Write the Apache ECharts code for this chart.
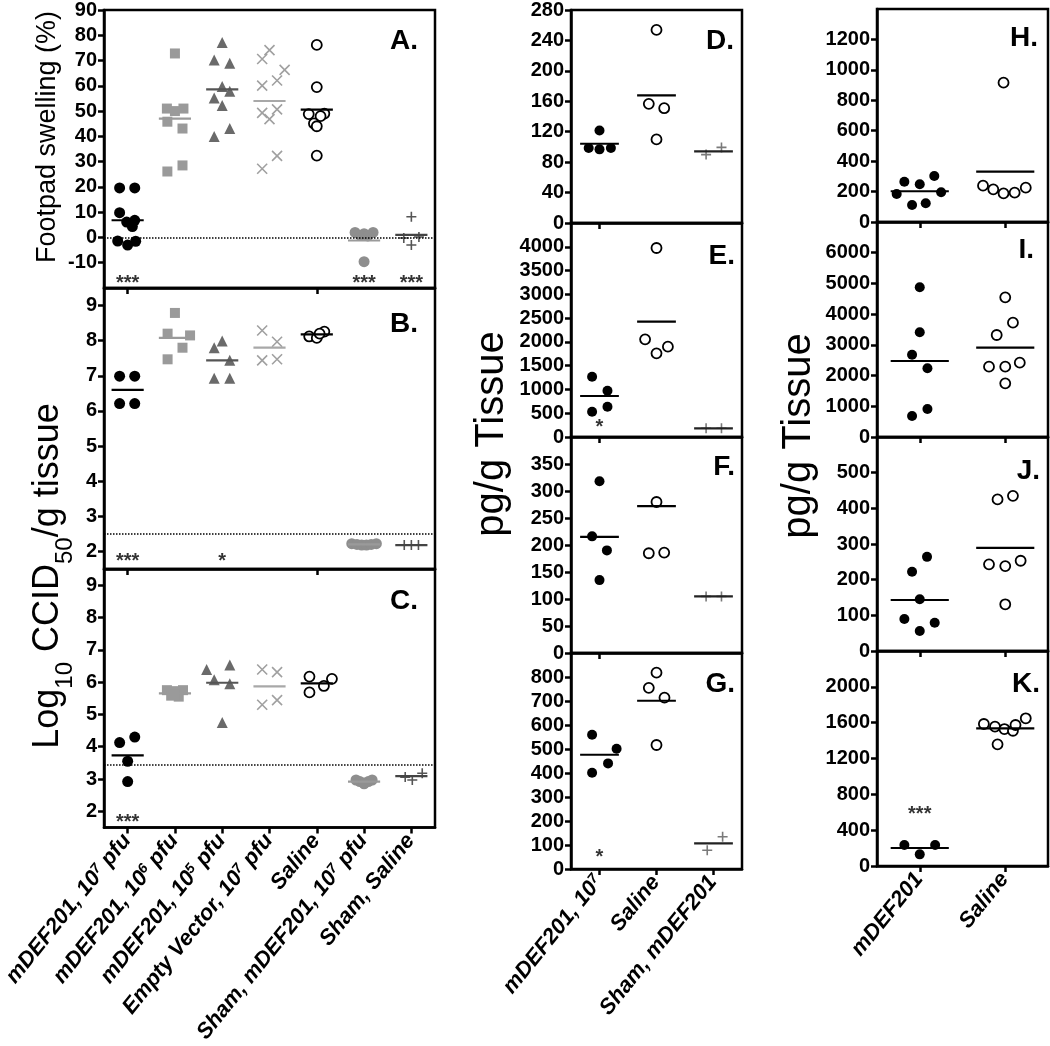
<!DOCTYPE html>
<html><head><meta charset="utf-8">
<script src="https://cdn.jsdelivr.net/npm/echarts@6/dist/echarts.min.js"></script>
<style>html,body{margin:0;padding:0;background:#fff}#c{width:1050px;height:1046px}</style>
</head><body><div id="c"></div>
<script>
// ---------------- DATA ----------------
const catsLeft = ['mDEF201, 10⁷ pfu', 'mDEF201, 10⁶ pfu', 'mDEF201, 10⁵ pfu', 'Empty Vector, 10⁷ pfu', 'Saline', 'Sham, mDEF201, 10⁷ pfu', 'Sham, Saline'];
const catsMid = ['mDEF201, 10⁷', 'Saline', 'Sham, mDEF201'];
const catsRight = ['mDEF201', 'Saline'];

// Panel A: footpad swelling (%)
const aVals = [
  [19.6, 19.6, 9.8, 6.1, 6.8, 4.3, -1.4, -3.0, -1.5],
  [72.8, 51.0, 50.0, 51.0, 45.8, 43.1, 26.1, 28.5],
  [77.1, 70.2, 68.9, 59.7, 55.2, 57.9, 52.2, 39.9, 43.1],
  [70.6, 74.1, 66.3, 60.1, 62.1, 49.3, 50.7, 46.8, 27.2, 32.3],
  [76.2, 59.5, 48.8, 49.0, 48.0, 45.1, 44.0, 32.4],
  [2.0, 1.5, 2.0, 0.8, 0.6, -9.6],
  [8.2, -0.2, 0.2, -3.0]
];
const aJit = [
  [-0.17, 0.15, -0.17, -0.02, 0.15, 0.10, -0.21, 0, 0.17],
  [0, -0.17, 0, 0.18, -0.16, 0.16, -0.16, 0.16],
  [0, -0.17, 0.16, 0, -0.17, 0.16, 0, -0.17, 0.16],
  [-0.155, 0, 0.32, -0.155, 0.16, -0.155, 0.16, 0, -0.155, 0.16],
  [0, 0, -0.17, 0.16, 0.08, -0.06, 0, 0],
  [-0.19, 0, 0.19, -0.08, 0.08, 0],
  [0, -0.16, 0.16, 0]
];
const aMeans = [6.8, 47.0, 58.6, 54.0, 50.6, -1.2, 1.0];
const aStars = [[0, -18.3, '***'], [5, -18.3, '***'], [6, -18.3, '***']];

// Panel B: log10 CCID50/g
const bVals = [
  [6.99, 6.99, 6.21, 6.21],
  [8.79, 8.20, 8.15, 7.80, 7.47],
  [7.80, 7.99, 7.44, 6.93, 6.93],
  [8.29, 7.97, 7.44, 7.47],
  [8.12, 8.08, 8.26, 8.20],
  [2.22, 2.20, 2.18, 2.18, 2.20, 2.22],
  [2.18, 2.18, 2.18]
];
const bJit = [
  [-0.17, 0.15, -0.17, 0.15],
  [0, -0.155, 0.32, 0.16, -0.155],
  [-0.17, 0, 0.16, -0.17, 0.16],
  [-0.155, 0.16, -0.155, 0.16],
  [-0.16, 0, 0.16, 0.06],
  [-0.26, -0.15, -0.05, 0.05, 0.15, 0.26],
  [-0.15, 0, 0.15]
];
const bMeans = [6.6, 8.08, 7.44, 7.8, 8.18, 2.2, 2.18];
const bStars = [[0, 1.70, '***'], [2, 1.70, '*']];

// Panel C: log10 CCID50/g
const cVals = [
  [4.13, 4.30, 3.55, 2.92],
  [5.75, 5.72, 5.75, 5.58, 5.55, 5.62],
  [6.39, 6.53, 6.07, 5.95, 4.75],
  [6.39, 6.31, 5.30, 5.44],
  [6.17, 6.10, 5.88, 5.68],
  [2.97, 2.97, 2.92, 2.92, 2.88, 2.85],
  [2.97, 3.18, 3.06]
];
const cJit = [
  [-0.17, 0.15, 0, 0],
  [-0.17, 0, 0.17, -0.08, 0.08, 0],
  [-0.33, 0.16, -0.17, 0.16, 0],
  [-0.155, 0.16, -0.155, 0.16],
  [-0.155, 0.32, 0.15, -0.155],
  [-0.17, 0.17, -0.09, 0.09, 0, 0],
  [0.02, 0.23, -0.13]
];
const cMeans = [3.73, 5.65, 5.98, 5.87, 5.96, 2.92, 3.09];
const cStars = [[0, 1.67, '***']];

// Panels D-G: pg/g tissue
const dVals = [[121.7, 98.5, 96.8, 98.5], [253.8, 156.6, 150.9, 109.9], [89.9, 99.4]];
const dJit = [[0, -0.19, 0, 0.2], [0, -0.135, 0.135, 0], [-0.13, 0.14]];
const dMeans = [104.2, 167.9, 94.2];
const eVals = [[1268, 974, 637, 532], [3974, 2054, 1899, 1760], [183, 183]];
const eJit = [[-0.13, 0.14, 0.14, -0.13], [0, -0.2, 0.2, 0], [-0.13, 0.14]];
const eMeans = [862, 2425, 183];
const eStars = [[0, 210, '*']];
const fVals = [[318, 216, 190, 135], [279.6, 184.7, 186], [104.8, 104.8]];
const fJit = [[0, -0.13, 0.13, 0], [0, -0.135, 0.135], [-0.13, 0.14]];
const fMeans = [215, 272, 105];
const gVals = [[559.6, 501, 440, 401], [818, 755, 714, 516.7], [78, 134.6]];
const gJit = [[-0.13, 0.3, 0.15, -0.13], [0, -0.135, 0.14, 0], [-0.11, 0.16]];
const gMeans = [476, 701, 107];
const gStars = [[0, 46, '*']];

// Panels H-K: pg/g tissue
const hVals = [[265, 247.6, 302, 184, 195, 111.7, 123], [238.6, 214.6, 188.6, 192.6, 225.5, 915.6]];
const hJit = [[-0.18, 0, 0.17, -0.27, 0.25, -0.09, 0.07], [-0.26, -0.14, -0.02, 0.11, 0.24, -0.02]];
const hMeans = [202, 330.6];
const iVals = [[4873, 3409, 2680, 2237, 912, 684], [4548, 3722, 3321, 2289, 2289, 2419, 1748]];
const iJit = [[0, 0, -0.09, 0.09, 0.09, -0.09], [0, 0.09, -0.1, -0.19, 0, 0.17, 0]];
const iMeans = [2474, 2908];
const jVals = [[264, 222, 145, 89.7, 79, 56], [425, 435, 243, 238, 253, 131]];
const jJit = [[0.085, -0.09, 0, -0.18, 0.175, 0], [-0.09, 0.09, -0.19, 0, 0.18, 0]];
const jMeans = [143, 289];
const kVals = [[234, 234, 130], [1585, 1555, 1529, 1510, 1574, 1649, 1358]];
const kJit = [[-0.18, 0.18, 0], [-0.25, -0.12, -0.01, 0.09, 0.12, 0.24, -0.09]];
const kMeans = [201, 1537];
const kStars = [[0, 580, '***']];

// ---------------- STYLE / LAYOUT ----------------
const FONT = '"Liberation Sans", Arial, Helvetica, sans-serif';
const typeStyle = {
  dot:  { symbol: 'circle', color: '#000', border: '#000', bw: 0, line: '#000' },
  sq:   { symbol: 'rect', color: '#9a9a9a', border: '#9a9a9a', bw: 0, line: '#9a9a9a' },
  tri:  { symbol: 'triangle', color: '#6a6a6a', border: '#6a6a6a', bw: 0, line: '#555' },
  x:    { symbol: 'path://M0,0L10,10M10,0L0,10', color: '#a0a0a0', border: '#a0a0a0', bw: 1.6, line: '#a8a8a8' },
  ring: { symbol: 'circle', color: '#fff', border: '#000', bw: 1.8, line: '#000' },
  gdot: { symbol: 'circle', color: '#8e8e8e', border: '#8e8e8e', bw: 0, line: '#9a9a9a' },
  plus: { symbol: 'path://M5,0L5,10M0,5L10,5', color: '#555', border: '#555', bw: 1.6, line: '#444' },
  plusM:{ symbol: 'path://M5,0L5,10M0,5L10,5', color: '#7a7a7a', border: '#7a7a7a', bw: 1.6, line: '#222' }
};
const leftTypes = ['dot', 'sq', 'tri', 'x', 'ring', 'gdot', 'plus'];
const leftSizes = [11, 10, 11, 10, 10, 11, 10];
const midTypes = ['dot', 'ring', 'plusM'];
const midSizes = [10, 10, 10];
const rightTypes = ['dot', 'ring'];
const rightSizes = [10, 10];

const panels = [
  { letter: 'A.', grid: { left: 104, top: 8, width: 331, height: 280 }, cats: catsLeft, vals: aVals, jit: aJit, means: aMeans, stars: aStars, types: leftTypes, sizes: leftSizes, y: { min: -20, max: 90, interval: 10 }, showMin: false, showMax: true, ref: 0, showX: false, lr: 418, lt: 27 },
  { letter: 'B.', grid: { left: 104, top: 288, width: 331, height: 281 }, cats: catsLeft, vals: bVals, jit: bJit, means: bMeans, stars: bStars, types: leftTypes, sizes: leftSizes, y: { min: 1.5, max: 9.5, splitNumber: 8 }, showMin: false, showMax: false, ref: 2.5, showX: false, lr: 418, lt: 310 },
  { letter: 'C.', grid: { left: 104, top: 569, width: 331, height: 282 }, cats: catsLeft, vals: cVals, jit: cJit, means: cMeans, stars: cStars, types: leftTypes, sizes: leftSizes, y: { min: 1.5, max: 9.5, splitNumber: 8 }, showMin: false, showMax: false, ref: 3.45, showX: true, lr: 418, lt: 587 },
  { letter: 'D.', grid: { left: 571, top: 9, width: 171, height: 214 }, cats: catsMid, vals: dVals, jit: dJit, means: dMeans, stars: [], types: midTypes, sizes: midSizes, y: { min: 0, max: 280, interval: 40 }, showMin: true, showMax: true, showX: false, lr: 734, lt: 27 },
  { letter: 'E.', grid: { left: 571, top: 223, width: 171, height: 214 }, cats: catsMid, vals: eVals, jit: eJit, means: eMeans, stars: eStars, types: midTypes, sizes: midSizes, y: { min: 0, max: 4500, interval: 500 }, showMin: true, showMax: false, showX: false, lr: 735, lt: 242 },
  { letter: 'F.', grid: { left: 571, top: 437, width: 171, height: 216 }, cats: catsMid, vals: fVals, jit: fJit, means: fMeans, stars: [], types: midTypes, sizes: midSizes, y: { min: 0, max: 400, interval: 50 }, showMin: true, showMax: false, showX: false, lr: 735, lt: 453 },
  { letter: 'G.', grid: { left: 571, top: 653, width: 171, height: 216 }, cats: catsMid, vals: gVals, jit: gJit, means: gMeans, stars: gStars, types: midTypes, sizes: midSizes, y: { min: 0, max: 900, interval: 100 }, showMin: true, showMax: false, showX: true, lr: 735, lt: 670 },
  { letter: 'H.', grid: { left: 877, top: 9, width: 171, height: 213 }, cats: catsRight, vals: hVals, jit: hJit, means: hMeans, stars: [], types: rightTypes, sizes: rightSizes, y: { min: 0, max: 1400, interval: 200 }, showMin: true, showMax: false, showX: false, lr: 1038, lt: 24 },
  { letter: 'I.', grid: { left: 877, top: 222, width: 171, height: 215 }, cats: catsRight, vals: iVals, jit: iJit, means: iMeans, stars: [], types: rightTypes, sizes: rightSizes, y: { min: 0, max: 7000, interval: 1000 }, showMin: true, showMax: false, showX: false, lr: 1034, lt: 236 },
  { letter: 'J.', grid: { left: 877, top: 437, width: 171, height: 214 }, cats: catsRight, vals: jVals, jit: jJit, means: jMeans, stars: [], types: rightTypes, sizes: rightSizes, y: { min: 0, max: 600, interval: 100 }, showMin: true, showMax: false, showX: false, lr: 1040, lt: 457 },
  { letter: 'K.', grid: { left: 877, top: 651, width: 171, height: 215 }, cats: catsRight, vals: kVals, jit: kJit, means: kMeans, stars: kStars, types: rightTypes, sizes: rightSizes, y: { min: 0, max: 2400, interval: 400 }, showMin: true, showMax: false, showX: true, lr: 1040, lt: 670 }
];

const supMap = { '⁰': '0', '¹': '1', '²': '2', '³': '3', '⁴': '4', '⁵': '5', '⁶': '6', '⁷': '7', '⁸': '8', '⁹': '9' };
function fmtLabel(v) {
  const m = v.match(/^(.*?)([⁰¹²³⁴⁵⁶⁷⁸⁹]+)(.*)$/);
  if (!m) return '{n|' + v + '}';
  const sup = m[2].split('').map(c => supMap[c]).join('');
  return '{n|' + m[1] + '}{s|' + sup + '}' + (m[3] ? '{n|' + m[3] + '}' : '');
}

const grids = [], xAxes = [], yAxes = [], series = [], titles = [];
panels.forEach((p, pi) => {
  grids.push(Object.assign({ show: true, borderColor: '#000', borderWidth: 2.5, backgroundColor: 'transparent', z: 3 }, p.grid));
  xAxes.push({
    type: 'category', gridIndex: pi, data: p.cats, boundaryGap: true, position: 'bottom',
    axisLine: { show: true, onZero: false, lineStyle: { color: '#000', width: 2.5 } },
    axisTick: { show: true, alignWithLabel: true, length: 6, lineStyle: { color: '#000', width: 2.5 } },
    splitLine: { show: false },
    axisLabel: p.showX ? {
      show: true, interval: 0, rotate: 51, margin: 10, formatter: fmtLabel,
      rich: {
        n: { fontFamily: FONT, fontSize: 22, fontWeight: 'bold', fontStyle: 'italic', color: '#000', lineHeight: 24, verticalAlign: 'top' },
        s: { fontFamily: FONT, fontSize: 14, fontWeight: 'bold', fontStyle: 'italic', color: '#000', lineHeight: 14, verticalAlign: 'top' }
      }
    } : { show: false }
  });
  const n = p.cats.length;
  xAxes.push({ type: 'value', gridIndex: pi, min: -0.5, max: n - 0.5, show: false, position: 'top', axisLine: { onZero: false } });
  yAxes.push(Object.assign({
    type: 'value', gridIndex: pi,
    axisLine: { show: true, onZero: false, lineStyle: { color: '#000', width: 2.5 } },
    axisTick: { show: true, length: 6, lineStyle: { color: '#000', width: 2.5 } },
    splitLine: { show: false },
    axisLabel: { fontFamily: FONT, fontSize: 20, fontWeight: 'bold', color: '#000', margin: 7, showMinLabel: p.showMin, showMaxLabel: p.showMax, formatter: v => String(v) }
  }, p.y));

  const xi = 2 * pi + 1;
  p.vals.forEach((vals, gi) => {
    const st = typeStyle[p.types[gi]];
    const s = {
      type: 'scatter', xAxisIndex: xi, yAxisIndex: pi, silent: true, z: 4,
      symbol: st.symbol, symbolSize: p.sizes[gi],
      itemStyle: { color: st.color, borderColor: st.border, borderWidth: st.bw, opacity: 1 },
      data: vals.map((v, k) => [gi + p.jit[gi][k], v])
    };
    if (gi === 0 && p.ref !== undefined) {
      s.markLine = {
        silent: true, symbol: 'none', animation: false, label: { show: false },
        lineStyle: { type: 'dotted', color: '#000', width: 1.5 },
        data: [{ yAxis: p.ref }]
      };
    }
    series.push(s);
  });
  // mean lines
  series.push({
    type: 'custom', xAxisIndex: xi, yAxisIndex: pi, silent: true, z: 6,
    data: p.means.map((m, gi) => [gi, m]),
    renderItem: (params, api) => {
      const gi = api.value(0), y = api.value(1);
      const a = api.coord([gi - 0.34, y]), b = api.coord([gi + 0.34, y]);
      return { type: 'line', shape: { x1: a[0], y1: a[1], x2: b[0], y2: b[1] }, style: { stroke: typeStyle[p.types[gi]].line, lineWidth: 2.2 } };
    }
  });
  if (p.stars.length) {
    series.push({
      type: 'scatter', xAxisIndex: xi, yAxisIndex: pi, silent: true, z: 7,
      symbolSize: 1, itemStyle: { color: 'rgba(0,0,0,0)' },
      data: p.stars,
      label: { show: true, position: 'inside', formatter: q => q.value[2], fontFamily: FONT, fontSize: 20, fontWeight: 'bold', color: '#000' }
    });
  }
  titles.push({ text: p.letter, right: 1050 - p.lr, top: p.lt, padding: 0, textStyle: { fontFamily: FONT, fontSize: 28, fontWeight: 'bold', color: '#000' } });
});

const graphic = [
  { type: 'text', x: 48, y: 137, rotation: Math.PI / 2, silent: true,
    style: { text: 'Footpad swelling (%)', fontFamily: FONT, fontSize: 27, fill: '#000', align: 'center', verticalAlign: 'middle' } },
  { type: 'text', x: 50, y: 576, rotation: Math.PI / 2, silent: true,
    style: { text: '{m|Log}{u|10}{m| CCID}{u|50}{m|/g tissue}', align: 'center', verticalAlign: 'middle',
      rich: {
        m: { fontFamily: FONT, fontSize: 36, fill: '#000', color: '#000', lineHeight: 40, verticalAlign: 'top' },
        u: { fontFamily: FONT, fontSize: 24, fill: '#000', color: '#000', lineHeight: 24, verticalAlign: 'top', padding: [23, 0, 0, 0] }
      } } },
  { type: 'text', x: 492, y: 434, rotation: Math.PI / 2, silent: true,
    style: { text: 'pg/g Tissue', fontFamily: FONT, fontSize: 40, fill: '#000', align: 'center', verticalAlign: 'middle' } },
  { type: 'text', x: 799, y: 436, rotation: Math.PI / 2, silent: true,
    style: { text: 'pg/g Tissue', fontFamily: FONT, fontSize: 40, fill: '#000', align: 'center', verticalAlign: 'middle' } }
];

const chart = echarts.init(document.getElementById('c'), null, { renderer: 'canvas' });
chart.setOption({
  animation: false,
  backgroundColor: '#fff',
  textStyle: { fontFamily: FONT },
  title: titles,
  grid: grids,
  xAxis: xAxes,
  yAxis: yAxes,
  series: series,
  graphic: graphic
});
</script>
</body></html>
